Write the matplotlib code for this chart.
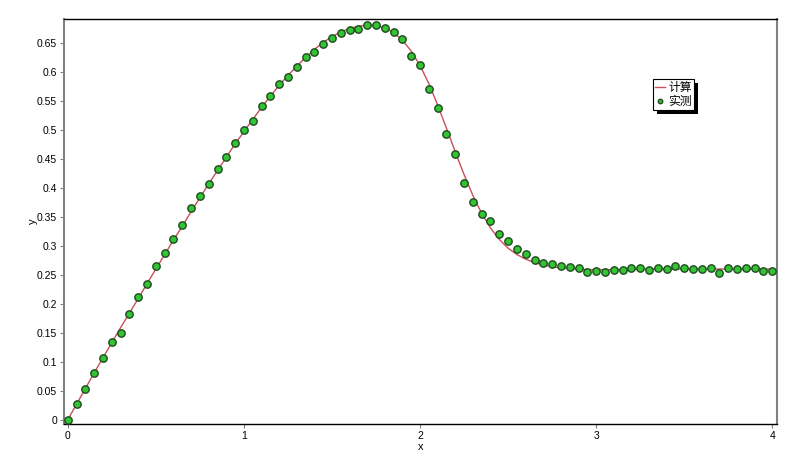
import numpy as np
import matplotlib
matplotlib.use("Agg")
import matplotlib.pyplot as plt
from matplotlib.ticker import FuncFormatter, MultipleLocator
import matplotlib.patheffects as pe

# Datos (x con paso 0.05 de 0 a 4)
x_step = 0.05
measured = [
    0.0, 0.027, 0.0535, 0.0806, 0.107, 0.1335, 0.149, 0.182, 0.212, 0.235,
    0.265, 0.288, 0.312, 0.3355, 0.365, 0.3855, 0.4075, 0.432, 0.4528, 0.478,
    0.4994, 0.5155, 0.542, 0.559, 0.579, 0.591, 0.6086, 0.6265, 0.634, 0.648,
    0.659, 0.6667, 0.672, 0.6748, 0.6805, 0.681, 0.676, 0.669, 0.657, 0.628,
    0.612, 0.571, 0.538, 0.493, 0.4585, 0.409, 0.376, 0.3544, 0.3434, 0.32,
    0.309, 0.295, 0.2854, 0.2756, 0.271, 0.268, 0.265, 0.264, 0.262, 0.2554,
    0.257, 0.2554, 0.258, 0.258, 0.262, 0.261, 0.259, 0.2625, 0.2595, 0.2657,
    0.262, 0.2595, 0.2595, 0.261, 0.2536, 0.261, 0.2595, 0.261, 0.261, 0.257,
    0.257,
]
calc = [
    0.0, 0.027, 0.054, 0.081, 0.107, 0.133, 0.159, 0.184, 0.209, 0.235,
    0.26, 0.285, 0.31, 0.334, 0.359, 0.383, 0.407, 0.43, 0.453, 0.476,
    0.497, 0.518, 0.539, 0.558, 0.577, 0.594, 0.61, 0.625, 0.639, 0.651,
    0.661, 0.669, 0.675, 0.679, 0.681, 0.68, 0.676, 0.668, 0.655, 0.636,
    0.611, 0.58, 0.543, 0.503, 0.462, 0.423, 0.387, 0.356, 0.331, 0.311,
    0.296, 0.285, 0.277, 0.271, 0.267, 0.264, 0.262, 0.261, 0.26, 0.259,
    0.259, 0.259, 0.259, 0.259, 0.259, 0.26, 0.26, 0.26, 0.26, 0.26,
    0.26, 0.26, 0.26, 0.26, 0.26, 0.26, 0.26, 0.26, 0.26, 0.26,
    0.26,
]
legend_labels = ["计算", "实测"]

x = np.arange(len(measured)) * x_step

plt.rcParams["font.family"] = ["Liberation Sans", "Noto Sans CJK SC", "DejaVu Sans"]

fig = plt.figure(figsize=(8, 4.74), dpi=100)
ax = fig.add_axes([0.08, 0.1055, 0.891, 0.8545])

ax.plot(x, calc, color="#c8505a", linewidth=1.0, label=legend_labels[0], zorder=2)
ax.plot(x, measured, linestyle="none", marker="o", markersize=5.3,
        markerfacecolor="#33c433", markeredgecolor="#1e4a1e", markeredgewidth=1.0,
        label=legend_labels[1], zorder=3)

ax.set_xlim(-0.0216, 4.0256)
ax.set_ylim(-0.0074, 0.6915)
ax.xaxis.set_major_locator(MultipleLocator(1))
ax.yaxis.set_major_locator(MultipleLocator(0.05))
ax.yaxis.set_major_formatter(FuncFormatter(lambda v, p: f"{round(v, 2):g}"))
ax.xaxis.set_major_formatter(FuncFormatter(lambda v, p: f"{v:g}"))
ax.tick_params(axis="both", labelsize=7.5, length=3, width=0.8, color="#808080", pad=2)

ax.set_xlabel("x", fontsize=8, labelpad=1)
ax.set_ylabel("y", fontsize=8, labelpad=-1)

for side in ["left", "right"]:
    ax.spines[side].set_color("#808080")
    ax.spines[side].set_linewidth(1.5)
for side in ["top", "bottom"]:
    ax.spines[side].set_color("black")
    ax.spines[side].set_linewidth(1.0)

leg = ax.legend(loc="upper left", bbox_to_anchor=(0.826, 0.852), fontsize=8.5,
                frameon=True, fancybox=False, shadow=False, framealpha=1,
                borderpad=0.2, handlelength=0.8, handletextpad=0.3,
                labelspacing=0.05, borderaxespad=0, markerscale=0.6)
for t in leg.get_texts():
    t.set_family(["Noto Sans CJK SC", "DejaVu Sans"])
frame = leg.get_frame()
frame.set_edgecolor("black")
frame.set_linewidth(0.8)
frame.set_path_effects([pe.SimplePatchShadow(offset=(3, -3), shadow_rgbFace="black", alpha=1.0),
                        pe.Normal()])

fig.savefig("out.png", dpi=100)
